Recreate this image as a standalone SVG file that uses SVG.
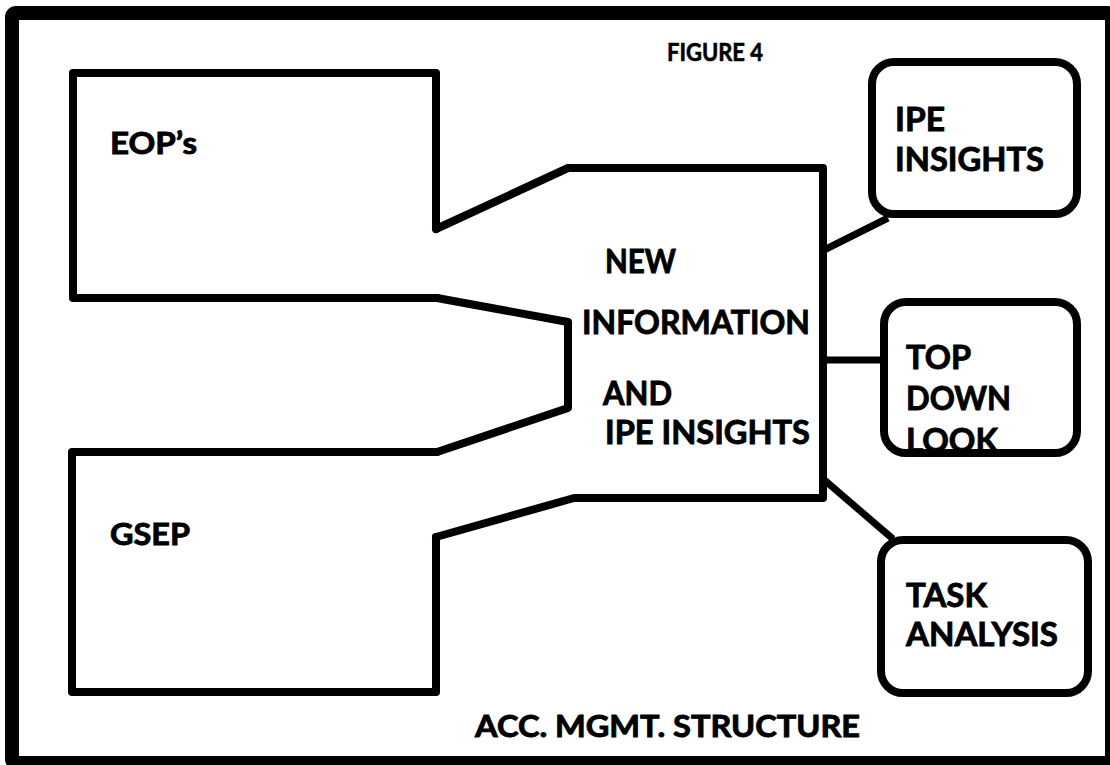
<svg xmlns="http://www.w3.org/2000/svg" width="1110" height="765" viewBox="0 0 1110 765">
  <style>
    .frame { fill: none; stroke: #000; stroke-width: 14; }
    .outline { fill: none; stroke: #000; stroke-width: 8; stroke-linejoin: round; stroke-linecap: round; }
    .box { fill: #fff; stroke: #000; stroke-width: 8; }
    .link { fill: none; stroke: #000; stroke-width: 7; stroke-linecap: butt; }
    .lbl { font-family: Lato, "Open Sans", "Liberation Sans", sans-serif; font-weight: 700; fill: #000; stroke: #000; stroke-width: 0.9; font-size: 33px; }
    .side { font-size: 31px; }
    .small { font-size: 24px; stroke-width: 0.6; }
    .foot { font-size: 30px; }
  </style>
  <rect width="1110" height="765" fill="#fff"/>
  <!-- page frame -->
  <rect class="frame" x="12" y="13" width="1100" height="750" rx="4"/>

  <text class="lbl small" x="667" y="61" textLength="96" lengthAdjust="spacingAndGlyphs">FIGURE 4</text>

  <!-- connectors from the central block to the three side boxes -->
  <g id="connectors">
    <line class="link" x1="822" y1="251" x2="888" y2="218"/>
    <line class="link" x1="822" y1="360" x2="884" y2="360"/>
    <line class="link" x1="822" y1="478" x2="893" y2="539"/>
  </g>

  <g id="eops">
    <polyline class="outline" points="436,229 436,73 73,73 73,298 437,298"/>
    <text class="lbl side" x="110" y="154" textLength="87" lengthAdjust="spacingAndGlyphs">EOP’s</text>
  </g>

  <g id="gsep">
    <polyline class="outline" points="436,537 436,692 72,692 72,452 437,452"/>
    <text class="lbl side" x="110" y="545" textLength="80" lengthAdjust="spacingAndGlyphs">GSEP</text>
  </g>

  <g id="new-information">
    <polyline class="outline" points="436,229 568,168 823,168 823,498 574,498 436,537"/>
    <polyline class="outline" points="437,298 568,322 568,408 437,452"/>
    <text class="lbl" x="605" y="273" textLength="71" lengthAdjust="spacingAndGlyphs">NEW</text>
    <text class="lbl" x="582" y="334" textLength="228" lengthAdjust="spacingAndGlyphs">INFORMATION</text>
    <text class="lbl" x="603" y="405" textLength="69" lengthAdjust="spacingAndGlyphs">AND</text>
    <text class="lbl" x="605" y="444" textLength="205" lengthAdjust="spacingAndGlyphs">IPE INSIGHTS</text>
  </g>

  <g id="ipe-insights">
    <rect class="box" x="872" y="62" width="205" height="152" rx="22"/>
    <text class="lbl" x="895" y="131" textLength="50" lengthAdjust="spacingAndGlyphs">IPE</text>
    <text class="lbl" x="895" y="171" textLength="149" lengthAdjust="spacingAndGlyphs">INSIGHTS</text>
  </g>

  <g id="top-down-look">
    <rect class="box" x="884" y="302" width="193" height="151" rx="22"/>
    <text class="lbl" x="906" y="369" textLength="65" lengthAdjust="spacingAndGlyphs">TOP</text>
    <text class="lbl" x="906" y="410" textLength="105" lengthAdjust="spacingAndGlyphs">DOWN</text>
    <text class="lbl" x="906" y="452" textLength="92" lengthAdjust="spacingAndGlyphs">LOOK</text>
  </g>

  <g id="task-analysis">
    <rect class="box" x="881" y="540" width="207" height="153" rx="22"/>
    <text class="lbl" x="906" y="607" textLength="81" lengthAdjust="spacingAndGlyphs">TASK</text>
    <text class="lbl" x="906" y="646" textLength="152" lengthAdjust="spacingAndGlyphs">ANALYSIS</text>
  </g>

  <text class="lbl foot" x="475" y="737" textLength="385" lengthAdjust="spacingAndGlyphs">ACC. MGMT. STRUCTURE</text>
</svg>
